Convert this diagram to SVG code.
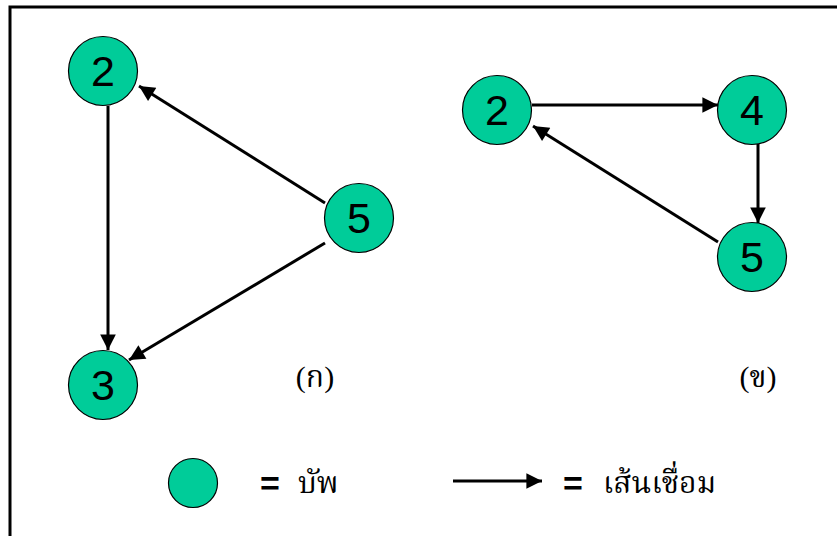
<svg xmlns="http://www.w3.org/2000/svg" width="837" height="536" viewBox="0 0 837 536">
<defs>
<marker id="ah" viewBox="0 0 10 10" refX="10" refY="5" markerWidth="5.8" markerHeight="5.2" markerUnits="strokeWidth" orient="auto">
<path d="M0,0 L10,5 L0,10 z" fill="#000"/>
</marker>
<style>
.node{fill:#00CC99;stroke:#000;stroke-width:1.2}
.num{font-family:"Liberation Sans",Arial,sans-serif;font-size:43px;fill:#000;text-anchor:middle}
.edge{stroke:#000;stroke-width:3;fill:none;marker-end:url(#ah)}
.lbl{font-family:"Norasi","Kinnari","Noto Serif Thai","Liberation Serif",serif;font-size:30px;fill:#000}
.par{font-family:"Liberation Serif",serif}
.eq{font-family:"Liberation Sans",Arial,sans-serif;font-size:34px;font-weight:bold;fill:#000}
</style>
</defs>
<rect x="0" y="0" width="837" height="536" fill="#fff"/>
<rect x="10" y="7" width="840" height="540" fill="none" stroke="#000" stroke-width="3"/>
<g id="connectors">
<line class="edge" x1="108" y1="106" x2="108" y2="350"/>
<line class="edge" x1="325" y1="203" x2="139" y2="86"/>
<line class="edge" x1="325" y1="243" x2="129" y2="360"/>
<line class="edge" x1="532" y1="105" x2="718" y2="105"/>
<line class="edge" x1="758" y1="144" x2="758" y2="223"/>
<line class="edge" x1="718" y1="242" x2="533" y2="126"/>
</g>
<g id="a2"><circle class="node" cx="103" cy="71" r="34.5"/><text class="num" x="103" y="86">2</text></g>
<g id="a5"><circle class="node" cx="359" cy="218" r="34.5"/><text class="num" x="359" y="233">5</text></g>
<g id="a3"><circle class="node" cx="103" cy="385" r="34.5"/><text class="num" x="103" y="400">3</text></g>
<g id="b2"><circle class="node" cx="497" cy="110" r="34.5"/><text class="num" x="497" y="125">2</text></g>
<g id="b4"><circle class="node" cx="752" cy="110" r="34.5"/><text class="num" x="752" y="125">4</text></g>
<g id="b5"><circle class="node" cx="752" cy="257" r="34.5"/><text class="num" x="752" y="272">5</text></g>
<g id="label-a"><text class="lbl" x="315" y="387" text-anchor="middle"><tspan class="par">(</tspan>ก<tspan class="par">)</tspan></text></g>
<g id="label-b"><text class="lbl" x="758" y="387" text-anchor="middle"><tspan class="par">(</tspan>ข<tspan class="par">)</tspan></text></g>
<g id="legend-node">
<ellipse class="node" cx="193" cy="483" rx="24.5" ry="24.5"/>
<text class="eq" x="260" y="495">=</text>
<text class="lbl" x="298" y="493">บัพ</text>
</g>
<g id="legend-edge">
<line class="edge" x1="453" y1="481" x2="542" y2="481"/>
<text class="eq" x="563" y="495">=</text>
<text class="lbl" x="603" y="493">เส้นเชื่อม</text>
</g>
</svg>
